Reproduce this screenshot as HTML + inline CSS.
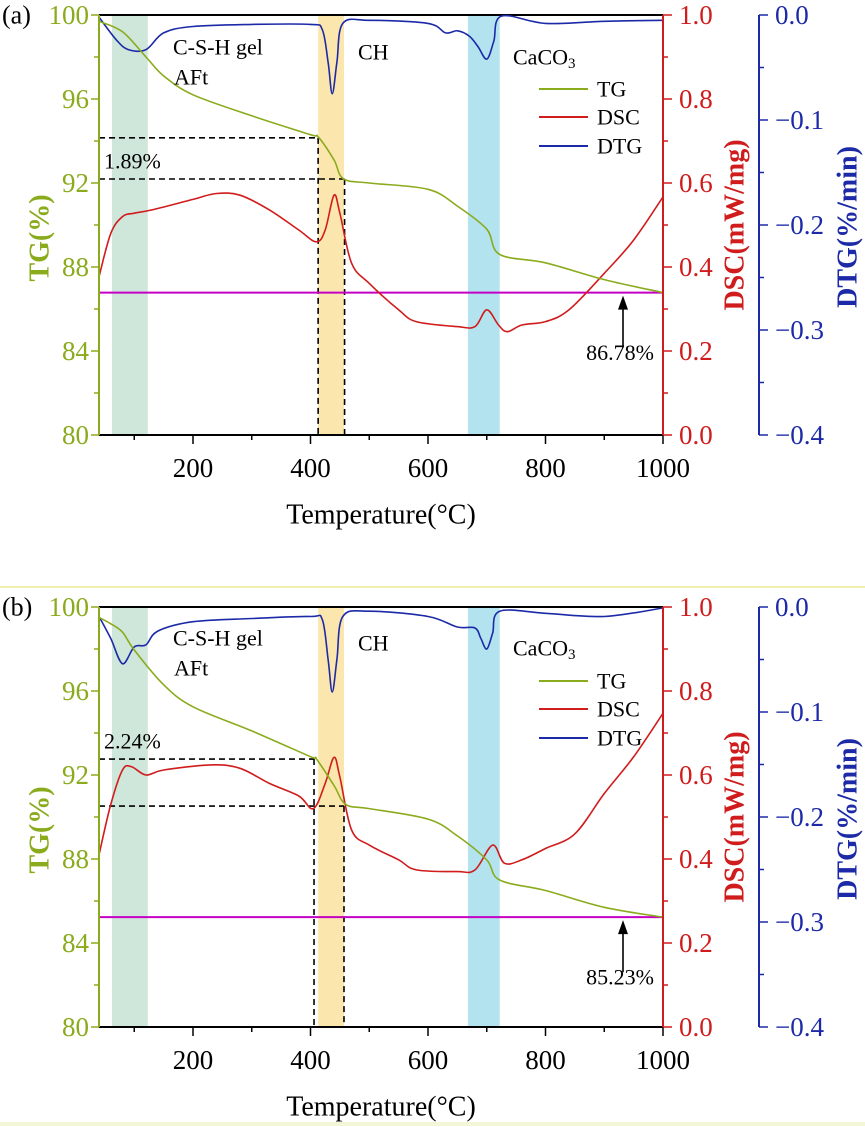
<!DOCTYPE html>
<html><head><meta charset="utf-8">
<style>
html,body{margin:0;padding:0;background:#fff;}
svg{display:block;}
svg text{font-family:"Liberation Serif","DejaVu Serif",serif;}
</style></head>
<body>
<svg id="fig" width="865" height="1127" viewBox="0 0 865 1127" xmlns="http://www.w3.org/2000/svg" font-family="Liberation Serif, serif">
<line x1="0" y1="587" x2="865" y2="587" stroke="#f0f0b0" stroke-width="2"/>
<line x1="0" y1="1124" x2="865" y2="1124" stroke="#f4f6d8" stroke-width="4"/>
</svg>
<script>
// ---------- data ----------
const tgTempA = [40,80,120,150,200,300,400,413,440,456,500,600,650,700,722,800,900,1000];
const tgValA  = [99.7,99.2,98.0,97.1,96.2,95.2,94.3,94.2,93.1,92.2,92.0,91.7,90.9,89.8,88.6,88.2,87.4,86.78];
const dscTempA = [40,60,80,100,130,200,240,280,330,380,410,425,440,450,470,500,550,580,650,680,700,720,735,760,800,840,900,950,1000];
const dscValA  = [0.377,0.48,0.52,0.528,0.536,0.561,0.575,0.571,0.536,0.488,0.46,0.488,0.571,0.528,0.409,0.361,0.298,0.27,0.258,0.258,0.298,0.262,0.246,0.262,0.27,0.298,0.385,0.464,0.567];
const dtgTempA = [40,70,90,120,150,200,300,400,420,430,437,445,455,500,600,630,650,670,685,700,712,725,800,900,1000];
const dtgValA  = [-0.002,-0.024,-0.033,-0.033,-0.017,-0.011,-0.009,-0.009,-0.014,-0.045,-0.075,-0.045,-0.008,-0.005,-0.008,-0.017,-0.015,-0.02,-0.03,-0.042,-0.025,-0.001,-0.008,-0.006,-0.005];

const tgTempB = [40,60,80,100,150,200,300,400,410,440,460,500,600,650,700,722,800,900,1000];
const tgValB  = [99.5,99.2,98.8,97.95,96.3,95.25,94.1,92.87,92.76,91.5,90.6,90.4,89.9,89.1,87.95,87.0,86.5,85.7,85.23];
const dscTempB = [40,60,80,95,120,150,230,280,330,380,405,425,440,450,470,500,550,580,650,680,710,730,760,800,850,900,950,1000];
const dscValB  = [0.41,0.53,0.612,0.62,0.6,0.612,0.624,0.616,0.58,0.55,0.52,0.58,0.642,0.595,0.469,0.433,0.398,0.374,0.37,0.374,0.433,0.39,0.398,0.425,0.46,0.556,0.643,0.747];
const dtgTempB = [40,60,80,100,120,140,200,300,400,420,430,437,445,455,500,600,650,680,690,700,710,722,800,900,1000];
const dtgValB  = [-0.009,-0.03,-0.054,-0.038,-0.036,-0.023,-0.014,-0.011,-0.009,-0.012,-0.05,-0.081,-0.05,-0.009,-0.004,-0.009,-0.019,-0.02,-0.03,-0.04,-0.025,-0.004,-0.006,-0.009,-0.001];

const xTicks = [200,400,600,800,1000];
const tgTicks = [80,84,88,92,96,100];
const dscTicks = ["0.0","0.2","0.4","0.6","0.8","1.0"];
const dtgTicks = ["\u22120.4","\u22120.3","\u22120.2","\u22120.1","0.0"];

const residualA = 86.78, residualB = 85.23;
const stepA = [94.15, 92.19], stepB = [92.76, 90.52];
const labelA = "(a)", labelB = "(b)";
const pctA = "1.89%", pctB = "2.24%";

// ---------- drawing ----------
const NS = "http://www.w3.org/2000/svg";
const svg = document.getElementById("fig");
const X0 = 99, X1 = 663, T0 = 40, T1 = 1000;
const GREEN = "#8aab1c", RED = "#d01c1c", BLUE = "#1c2aa8";
const FONT = "'Liberation Serif', 'DejaVu Serif', serif";
function xs(t){ return X0 + (t - T0) * (X1 - X0) / (T1 - T0); }
function mk(tag, attrs, parent){
  const e = document.createElementNS(NS, tag);
  for (const k in attrs) e.setAttribute(k, attrs[k]);
  (parent || svg).appendChild(e);
  return e;
}
function txt(str, x, y, size, fill, anchor, parent, extra){
  const e = mk("text", Object.assign({x:x, y:y, "font-size":size, fill:fill, "font-family":FONT, "text-anchor":anchor||"start", "dominant-baseline":"central"}, extra||{}), parent);
  e.textContent = str;
  return e;
}
// smooth path (Catmull-Rom -> Bezier)
function pathFrom(ts, vs, ys){
  const p = ts.map((t,i)=>[xs(t), ys(vs[i])]);
  let d = "M" + p[0][0].toFixed(1) + "," + p[0][1].toFixed(1);
  for (let i = 0; i < p.length - 1; i++){
    const p0 = p[Math.max(i-1,0)], p1 = p[i], p2 = p[i+1], p3 = p[Math.min(i+2,p.length-1)];
    const c1x = p1[0] + (p2[0]-p0[0])/6, c1y = p1[1] + (p2[1]-p0[1])/6;
    const c2x = p2[0] - (p3[0]-p1[0])/6, c2y = p2[1] - (p3[1]-p1[1])/6;
    d += "C" + c1x.toFixed(1) + "," + c1y.toFixed(1) + " " + c2x.toFixed(1) + "," + c2y.toFixed(1) + " " + p2[0].toFixed(1) + "," + p2[1].toFixed(1);
  }
  return d;
}

function panel(top, d){
  const bot = top + 420;
  const g = mk("g", {});
  
  
  const yTG = v => bot - (v - 80) * 21;
  const yDSC = v => bot - v * 420;
  const yDTG = v => top - v * 1050;

  const bands = [[62,123,"#cfe6da","band-csh"],[413,457,"#fbe6ad","band-ch"],[668,722,"#b3e3ef","band-caco3"]];
  bands.forEach(b => {
    const r = mk("rect", {x:xs(b[0]), y:top, width:xs(b[1])-xs(b[0]), height:420, fill:b[2]}, g);
    
    
  });
  const tl = mk("line", {x1:X0, y1:top, x2:X1, y2:top, stroke:"#000", "stroke-width":2}, g);
  
  

  const sx1 = xs(d.stepT[0]), sx2 = xs(d.stepT[1]);
  const dsh = {stroke:"#000", "stroke-width":1.6, "stroke-dasharray":"6,4", fill:"none"};
  [[X0,yTG(d.step[0]),sx1,yTG(d.step[0])],[X0,yTG(d.step[1]),sx2,yTG(d.step[1])],[sx1,yTG(d.step[0]),sx1,bot],[sx2,yTG(d.step[1]),sx2,bot]].forEach(l=>{
    const e = mk("line", Object.assign({x1:l[0],y1:l[1],x2:l[2],y2:l[3]}, dsh), g);
    
    
  });

  const rl = mk("line", {x1:X0, y1:yTG(d.residual), x2:X1, y2:yTG(d.residual), stroke:"#c400c4", "stroke-width":2}, g);
  
  

  const s1 = mk("path", {d:pathFrom(d.dtgT, d.dtgV, yDTG), stroke:BLUE, "stroke-width":1.6, fill:"none", "stroke-linejoin":"round"}, g);
  
  
  const s2 = mk("path", {d:pathFrom(d.dscT, d.dscV, yDSC), stroke:RED, "stroke-width":1.6, fill:"none", "stroke-linejoin":"round"}, g);
  
  
  const s3 = mk("path", {d:pathFrom(d.tgT, d.tgV, yTG), stroke:GREEN, "stroke-width":1.6, fill:"none", "stroke-linejoin":"round"}, g);
  
  

  const ax = mk("line", {x1:X0, y1:bot, x2:X1, y2:bot, stroke:"#000", "stroke-width":2}, g);
  
  
  for (let t = 100; t <= 1000; t += 100){
    const major = t % 200 === 0;
    const tk = mk("line", {x1:xs(t), y1:bot, x2:xs(t), y2:bot + (major?9:5), stroke:"#000", "stroke-width":1.5}, g);
    
    
  }
  xTicks.forEach(t => {
    const e = txt(String(t), xs(t), bot + 33, 27, "#000", "middle", g);
    
    
  });
  const xt = txt("Temperature(\u00B0C)", 381, bot + 80, 28, "#000", "middle", g);
  
  

  const la = mk("line", {x1:X0, y1:top, x2:X0, y2:bot, stroke:GREEN, "stroke-width":2}, g);
  
  
  for (let v = 80; v <= 100; v += 2){
    const major = v % 4 === 0;
    const tk = mk("line", {x1:X0 - (major?8:5), y1:yTG(v), x2:X0, y2:yTG(v), stroke:GREEN, "stroke-width":1.5}, g);
    
    
  }
  tgTicks.forEach(v => {
    const e = txt(String(v), X0 - 10, yTG(v), 27, GREEN, "end", g);
    
    
  });
  const tt = txt("TG(%)", 0, 0, 28, GREEN, "middle", g, {"font-weight":"bold", transform:"translate(40," + (top + 223) + ") rotate(-90)"});
  
  

  const ra = mk("line", {x1:X1, y1:top, x2:X1, y2:bot, stroke:RED, "stroke-width":2}, g);
  
  
  for (let i = 0; i <= 10; i++){
    const major = i % 2 === 0;
    const tk = mk("line", {x1:X1, y1:yDSC(i/10), x2:X1 + (major?9:5), y2:yDSC(i/10), stroke:RED, "stroke-width":1.5}, g);
    
    
  }
  dscTicks.forEach(s => {
    const e = txt(s, 679, yDSC(parseFloat(s)), 27, RED, "start", g);
    
    
  });
  const dt = txt("DSC(mW/mg)", 0, 0, 28, RED, "middle", g, {"font-weight":"bold", transform:"translate(735," + (top + 210) + ") rotate(-90)"});
  
  

  const XD = 759;
  const da = mk("line", {x1:XD, y1:top, x2:XD, y2:bot, stroke:BLUE, "stroke-width":2}, g);
  
  
  for (let i = 0; i <= 8; i++){
    const major = i % 2 === 0;
    const v = -i * 0.05;
    const tk = mk("line", {x1:XD, y1:yDTG(v), x2:XD + (major?9:5), y2:yDTG(v), stroke:BLUE, "stroke-width":1.5}, g);
    
    
  }
  dtgTicks.forEach(s => {
    const v = parseFloat(s.replace("\u2212", "-"));
    const e = txt(s, 775, yDTG(v), 27, BLUE, "start", g);
    
    
  });
  const gt = txt("DTG(%/min)", 0, 0, 28, BLUE, "middle", g, {"font-weight":"bold", transform:"translate(848," + (top + 212) + ") rotate(-90)"});
  
  

  const pl = txt(d.label, 2, top, 26, "#000", "start", g);
  
  
  const a1 = txt("C-S-H gel", 173, top + d.cshDy, 22, "#000", "start", g);
  
  
  const a2 = txt("AFt", 174, top + d.cshDy + 30, 22, "#000", "start", g);
  
  
  const a3 = txt("CH", 358, top + d.cshDy + 5, 22, "#000", "start", g);
  
  
  const a4 = mk("text", {x:513, y:top + d.cshDy + 10, "font-size":22, fill:"#000", "font-family":FONT, "dominant-baseline":"central"}, g);
  
  
  a4.innerHTML = 'CaCO<tspan font-size="15" dy="7">3</tspan>';
  const a5 = txt(d.pct, 104, yTG(d.step[d.pctIdx]) + d.pctDy, 22, "#000", "start", g);
  
  

  const ay = yTG(d.residual);
  const ar = mk("line", {x1:623, y1:ay + 55, x2:623, y2:ay + 14, stroke:"#000", "stroke-width":1.6}, g);
  
  
  const ah = mk("polygon", {points:"623," + (ay+3) + " 618," + (ay+17) + " 628," + (ay+17), fill:"#000"}, g);
  
  
  const rv = txt(d.residual.toFixed(2) + "%", 620, ay + 60, 22, "#000", "middle", g);
  
  

  const lg = mk("g", {}, g);
  
  
  [["TG",GREEN,74],["DSC",RED,102],["DTG",BLUE,131]].forEach(it => {
    const ln = mk("line", {x1:539, y1:top+it[2], x2:588, y2:top+it[2], stroke:it[1], "stroke-width":2}, lg);
    
    
    const t = txt(it[0], 597, top+it[2], 22, "#000", "start", lg);
    
    
  });
}

panel(15, {name:"panel-a", label:labelA, tgT:tgTempA, tgV:tgValA, dscT:dscTempA, dscV:dscValA, dtgT:dtgTempA, dtgV:dtgValA,
  residual:residualA, step:stepA, stepT:[413,458], pct:pctA, pctIdx:0, pctDy:23, cshDy:32});
panel(607, {name:"panel-b", label:labelB, tgT:tgTempB, tgV:tgValB, dscT:dscTempB, dscV:dscValB, dtgT:dtgTempB, dtgV:dtgValB,
  residual:residualB, step:stepB, stepT:[406,457], pct:pctB, pctIdx:0, pctDy:-18, cshDy:31});
</script>
</body></html>
